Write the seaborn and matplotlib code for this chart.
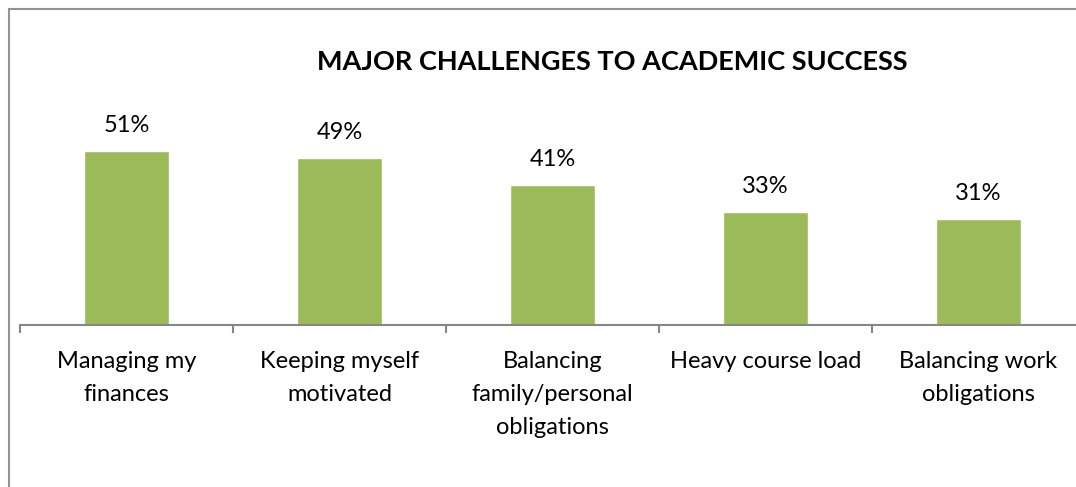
import matplotlib
matplotlib.use("Agg")
import matplotlib.pyplot as plt
import seaborn as sns
import pandas as pd
from matplotlib.patches import Rectangle

categories = ["Managing my\nfinances", "Keeping myself\nmotivated",
              "Balancing\nfamily/personal\nobligations", "Heavy course load",
              "Balancing work\nobligations"]
values = [51, 49, 41, 33, 31]
title = "MAJOR CHALLENGES TO ACADEMIC SUCCESS"

sns.set_theme(style="white")
plt.rcParams['font.family'] = ['Lato', 'DejaVu Sans']

W, H = 1076, 487
fig = plt.figure(figsize=(W / 100, H / 100), dpi=100)
left, right = 20, 1085
bottom = 325
ymax = 60
top = bottom - 3.41 * ymax
ax = fig.add_axes([left / W, 1 - bottom / H, (right - left) / W, (bottom - top) / H])

df = pd.DataFrame({"cat": categories, "val": values})
sns.barplot(data=df, x="cat", y="val", ax=ax, color="#9BBB59", saturation=1, width=0.4)
ax.set_xlim(-0.5, 4.5)
ax.set_ylim(0, ymax)
ax.set_xlabel("")
ax.set_ylabel("")
ax.set_yticks([])
for s in ["top", "right", "left"]:
    ax.spines[s].set_visible(False)
ax.spines["bottom"].set_color("#868686")
ax.spines["bottom"].set_linewidth(1.5)

ax.set_xticks([i for i in range(5)])
ax.set_xticklabels(categories, fontsize=17, color="#000000", linespacing=1.68)
ax.tick_params(axis="x", which="major", length=0, pad=19, bottom=True)
ax.set_xticks([i - 0.5 for i in range(6)], minor=True)
ax.tick_params(axis="x", which="minor", length=6, width=1.5, color="#868686",
               direction="out", bottom=True)

for i, v in enumerate(values):
    ax.annotate(f"{v}%", (i, v), xytext=(0, 11), textcoords="offset points",
                ha="center", va="bottom", fontsize=17, color="#000000")

fig.text(612 / W, 1 - 62 / H, title, ha="center", va="center",
         fontsize=19.5, fontweight="bold", color="#000000")

fig.patches.append(Rectangle((9 / W, -0.1), 1.2, 1 - 9 / H + 0.1, transform=fig.transFigure,
                             fill=False, edgecolor="#939393", linewidth=1.5))

fig.savefig("out.png", dpi=100)
